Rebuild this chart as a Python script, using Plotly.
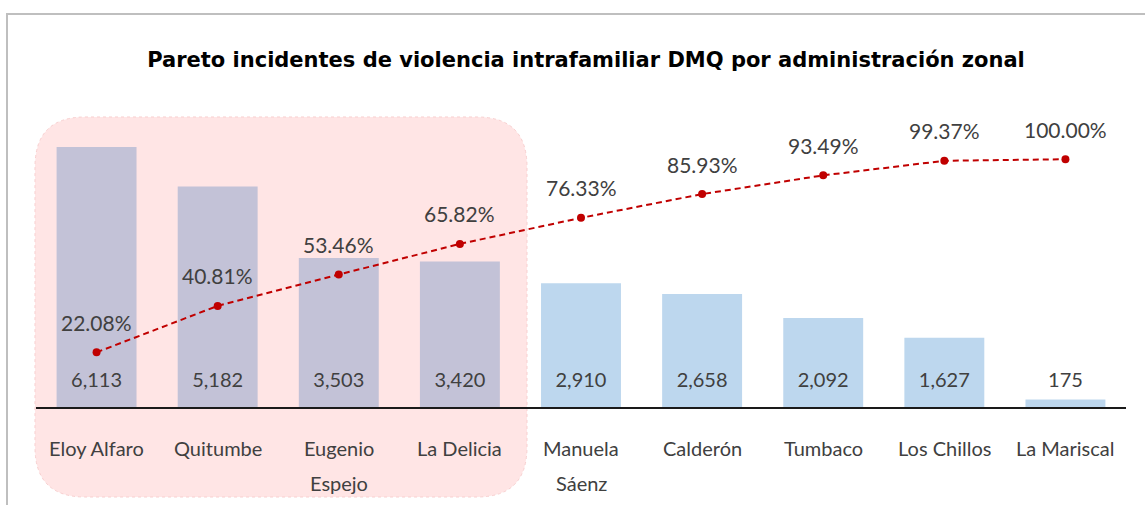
import plotly.graph_objects as go

# ---- data ----
categories = ["Eloy Alfaro", "Quitumbe", "Eugenio<br>Espejo", "La Delicia",
              "Manuela<br>Sáenz", "Calderón", "Tumbaco", "Los Chillos", "La Mariscal"]
incidents = [6113, 5182, 3503, 3420, 2910, 2658, 2092, 1627, 175]
cumulative_pct = [22.08, 40.81, 53.46, 65.82, 76.33, 85.93, 93.49, 99.37, 100.00]
highlight_n = 4

# ---- layout constants (pixels) ----
W, H = 1145, 505
L, R, T, B = 36, 1126, 100, 407
FONT = "Lato"
TXT = "#404040"

def px(xp):
    return (xp - L) / (R - L)

def py(yp):
    return (B - yp) / (B - T)

y1_max = 7218
y2_max = 123.9
label_y = 580  # data units on y where bar values sit

bar_colors = ["#C3C2D7" if i < highlight_n else "#BDD7EE" for i in range(len(incidents))]

fig = go.Figure()
fig.add_trace(go.Bar(x=categories, y=incidents, marker=dict(color=bar_colors, line=dict(width=0)),
                     hoverinfo="x+y", showlegend=False))
fig.add_trace(go.Scatter(x=categories, y=[label_y] * len(incidents), mode="text",
                         text=[f"{v:,}" for v in incidents],
                         textfont=dict(family=FONT, size=20, color=TXT),
                         hoverinfo="skip", showlegend=False))
fig.add_trace(go.Scatter(x=categories, y=cumulative_pct, yaxis="y2", mode="lines+markers",
                         line=dict(color="#C00000", width=2, dash="6px,4px"),
                         marker=dict(color="#C00000", size=8),
                         showlegend=False))
for c, p in zip(categories, cumulative_pct):
    fig.add_annotation(x=c, y=p, xref="x", yref="y2", text=f"{p:.2f}%", showarrow=False,
                       yshift=30, font=dict(family=FONT, size=21, color=TXT))

# category labels (two-line labels with wider line spacing)
for c in categories:
    for k, line in enumerate(c.split("<br>")):
        fig.add_annotation(x=c, y=py(448 + 35 * k), xref="x", yref="paper", text=line,
                           showarrow=False, yanchor="middle",
                           font=dict(family=FONT, size=20, color=TXT))

# rounded highlight rectangle
x0, x1, yt, yb, r = 35, 527, 117, 497, 50
P = lambda a, b: f"{px(a):.5f},{py(b):.5f}"
path = (f"M {P(x0 + r, yt)} L {P(x1 - r, yt)} Q {P(x1, yt)} {P(x1, yt + r)} "
        f"L {P(x1, yb - r)} Q {P(x1, yb)} {P(x1 - r, yb)} "
        f"L {P(x0 + r, yb)} Q {P(x0, yb)} {P(x0, yb - r)} "
        f"L {P(x0, yt + r)} Q {P(x0, yt)} {P(x0 + r, yt)} Z")
fig.add_shape(type="path", path=path, xref="paper", yref="paper", layer="below",
              fillcolor="#FFE5E5", line=dict(color="#F8CFCF", width=1, dash="dot"))

# chart border (top + left visible)
fig.add_shape(type="rect", xref="paper", yref="paper", layer="below",
              x0=px(7), x1=px(1160), y0=py(14), y1=py(520),
              line=dict(color="#BFBFBF", width=2), fillcolor="rgba(0,0,0,0)")

fig.update_layout(
    width=W, height=H,
    margin=dict(l=L, r=W - R, t=T, b=H - B),
    paper_bgcolor="white", plot_bgcolor="rgba(0,0,0,0)",
    bargap=0.34,
    title=dict(text="<b>Pareto incidentes de violencia intrafamiliar DMQ por administración zonal</b>",
               x=586 / W, xanchor="center", y=1 - 60 / H, yanchor="middle",
               font=dict(family="DejaVu Sans", size=21, color="black")),
    xaxis=dict(showline=True, linecolor="#1a1a1a", linewidth=2, ticks="", showgrid=False,
               showticklabels=False, fixedrange=True),
    yaxis=dict(range=[0, y1_max], visible=False, fixedrange=True),
    yaxis2=dict(range=[0, y2_max], overlaying="y", side="right", visible=False, fixedrange=True),
    font=dict(family=FONT, color=TXT),
)

fig.write_html("out.html", config={"displayModeBar": False},
               post_script="document.body.style.margin='0';document.body.style.overflow='hidden';")
